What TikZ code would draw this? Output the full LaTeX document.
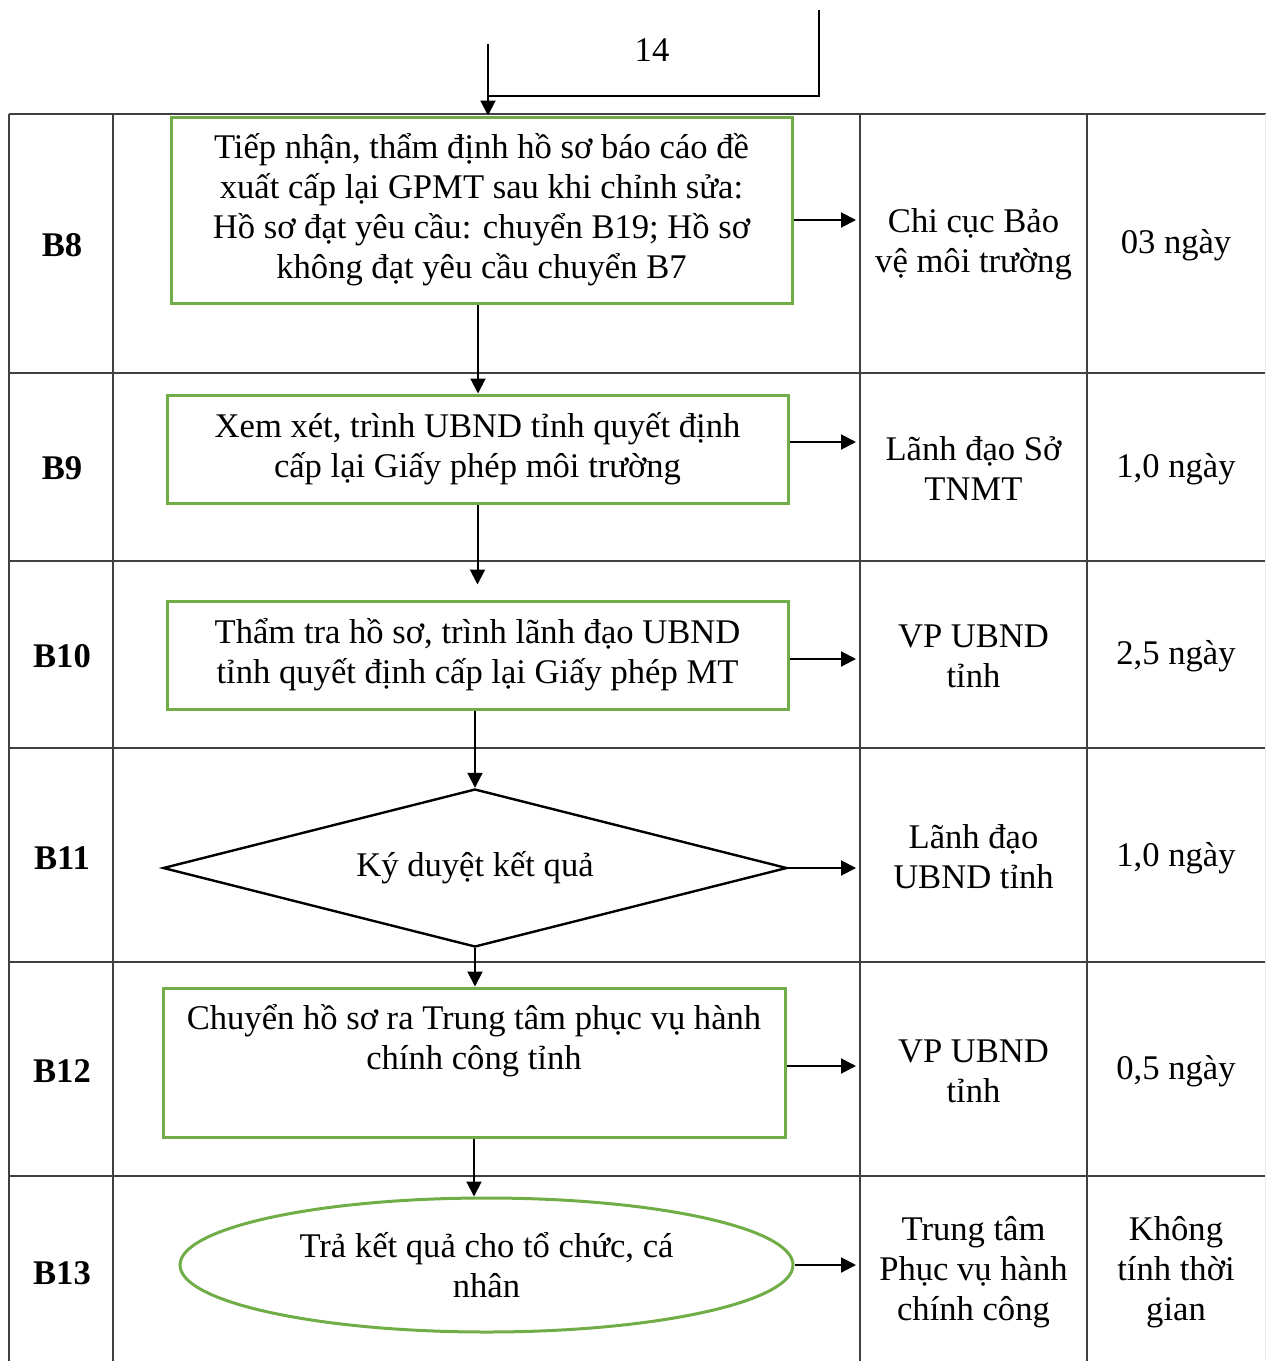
\documentclass[tikz,border=0pt]{standalone}
\usepackage{fontspec}
\setmainfont{Liberation Serif}
\usetikzlibrary{shapes.geometric,arrows.meta}
\definecolor{boxgreen}{HTML}{70AD47}
\definecolor{gridgray}{HTML}{404040}

\begin{document}
\begin{tikzpicture}[x=0.5pt,y=-0.5pt,
		font=\fontsize{17.3}{20}\selectfont,
		flowbox/.style={draw=boxgreen,line width=1.5pt,align=center,inner sep=0pt},
		decision/.style={diamond,draw,line width=1.2pt,shape aspect=4,inner sep=0pt,minimum width=312pt,minimum height=79pt},
		finish/.style={ellipse,draw=boxgreen,line width=1.5pt,align=center,inner sep=0pt,minimum width=306.5pt,minimum height=67pt},
		cell/.style={align=center},
		steplabel/.style={font=\fontsize{17.3}{20}\selectfont\bfseries},
		arr/.style={-{Triangle[length=7.5pt,width=7.5pt]},line width=1pt},
		tableline/.style={draw=gridgray,line width=1pt}]
	\useasboundingbox (0,0) rectangle (1266,1361);

	% table
	\foreach \y in {114,373,561,748,962,1176}
		\draw[tableline] (9,\y) -- (1266,\y);
	\foreach \x in {9,113,860,1087}
		\draw[tableline] (\x,114) -- (\x,1361);
	\draw[draw=gray!15,line width=0.5pt] (1265,114) -- (1265,1361);

	% flow
	\node[flowbox,minimum width=310.5pt,minimum height=93pt] (b8) at (481.5,210)
		{Tiếp nhận, thẩm định hồ sơ báo cáo đề\\xuất cấp lại GPMT sau khi chỉnh sửa:\\Hồ sơ đạt yêu cầu: chuyển B19; Hồ sơ\\không đạt yêu cầu chuyển B7};
	\node[flowbox,minimum width=310.5pt,minimum height=54pt] (b9) at (477.5,449)
		{Xem xét, trình UBND tỉnh quyết định\\cấp lại Giấy phép môi trường};
	\node[flowbox,minimum width=310.5pt,minimum height=54pt] (b10) at (477.5,655)
		{Thẩm tra hồ sơ, trình lãnh đạo UBND\\tỉnh quyết định cấp lại Giấy phép MT};
	\node[decision] (b11) at (475,868) {Ký duyệt kết quả};
	\node[flowbox,minimum width=311pt,minimum height=74.5pt] (b12) at (474,1062.5)
		{Chuyển hồ sơ ra Trung tâm phục vụ hành\\chính công tỉnh\\ \strut};
	\node[finish] (b13) at (486.5,1265) {Trả kết quả cho tổ chức, cá\\nhân};

	% steps
	\node[steplabel] (s8) at (62,245) {B8};
	\node[steplabel] (s9) at (62,468) {B9};
	\node[steplabel] (s10) at (62,656) {B10};
	\node[steplabel] (s11) at (62,858) {B11};
	\node[steplabel] (s12) at (62,1071) {B12};
	\node[steplabel] (s13) at (62,1273) {B13};

	% units
	\node[cell] (u8) at (973.5,244) {Chi cục Bảo\\vệ môi trường};
	\node[cell] (u9) at (973.5,468) {Lãnh đạo Sở\\TNMT};
	\node[cell] (u10) at (973.5,656) {VP UBND\\tỉnh};
	\node[cell] (u11) at (973.5,857) {Lãnh đạo\\UBND tỉnh};
	\node[cell] (u12) at (973.5,1071) {VP UBND\\tỉnh};
	\node[cell] (u13) at (973.5,1272) {Trung tâm\\Phục vụ hành\\chính công};

	% times
	\node[cell] (t8) at (1176,245) {03 ngày};
	\node[cell] (t9) at (1176,469) {1,0 ngày};
	\node[cell] (t10) at (1176,656) {2,5 ngày};
	\node[cell] (t11) at (1176,858) {1,0 ngày};
	\node[cell] (t12) at (1176,1071) {0,5 ngày};
	\node[cell] (t13) at (1176,1272) {Không\\tính thời\\gian};

	% from 14
	\coordinate (from14) at (819,10);
	\coordinate (bend) at (488,96);
	\coordinate (in14) at (488,44);
	\node (n14) at (652,50) {14};
	\draw[line width=1pt] (from14) |- (bend);
	\draw[arr] (in14) -- (in14 |- b8.north);

	% down arrows
	\draw[arr] (b8.south -| 478,0) -- (478,0 |- b9.north);
	\draw[arr,shorten >=7.5pt] (b9.south) -- (b10.north);
	\draw[arr] (b10.south -| b11.north) -- (b11.north);
	\draw[arr] (b11.south) -- (b11.south |- b12.north);
	\draw[arr] (b12.south) -- (b12.south |- b13.north);

	% side arrows
	\coordinate (c3) at (856,0);
	\draw[arr] (b8.east |- 0,220) -- (c3 |- 0,220);
	\draw[arr] (b9.east |- 0,442) -- (c3 |- 0,442);
	\draw[arr] (b10.east |- 0,659) -- (c3 |- 0,659);
	\draw[arr] (b11.east) -- (b11.east -| c3);
	\draw[arr] (b12.east |- 0,1066) -- (c3 |- 0,1066);
	\draw[arr] (b13.east) -- (b13.east -| c3);
\end{tikzpicture}
\end{document}
